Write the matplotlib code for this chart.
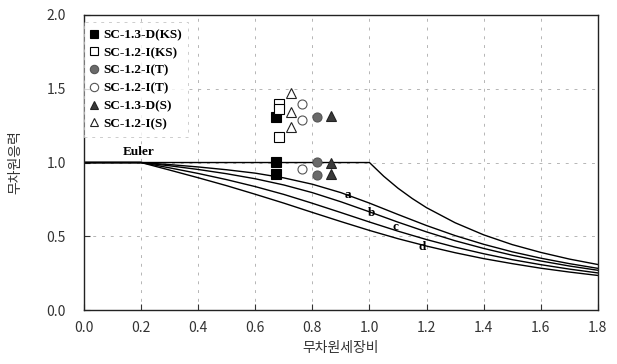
import matplotlib
matplotlib.use('Agg')
import matplotlib.pyplot as plt
from matplotlib.lines import Line2D

plt.rcParams['font.family'] = ['Noto Sans CJK KR', 'DejaVu Sans']

## column curve values (slenderness vs. stress ratio)
lam = [0.0, 0.2, 0.3, 0.4, 0.5, 0.6, 0.7, 0.8, 0.9, 1.0, 1.1, 1.2, 1.3, 1.4, 1.5, 1.6, 1.7, 1.8]
curve_a = [1.0, 1.0, 0.986, 0.970, 0.951, 0.928, 0.896, 0.853, 0.796, 0.725, 0.648, 0.573, 0.505, 0.446, 0.395, 0.352, 0.315, 0.283]
curve_b = [1.0, 1.0, 0.978, 0.953, 0.924, 0.890, 0.848, 0.796, 0.734, 0.666, 0.596, 0.530, 0.470, 0.418, 0.372, 0.333, 0.299, 0.270]
curve_c = [1.0, 1.0, 0.964, 0.926, 0.884, 0.837, 0.784, 0.724, 0.661, 0.597, 0.535, 0.478, 0.427, 0.382, 0.342, 0.308, 0.278, 0.252]
curve_d = [1.0, 1.0, 0.949, 0.897, 0.843, 0.785, 0.725, 0.662, 0.600, 0.540, 0.484, 0.434, 0.389, 0.349, 0.315, 0.284, 0.258, 0.235]

euler_x = [0.0, 1.0, 1.05, 1.1, 1.15, 1.2, 1.3, 1.4, 1.5, 1.6, 1.7, 1.8]
euler_y = [1.0, 1.0, 0.907, 0.826, 0.756, 0.694, 0.592, 0.510, 0.444, 0.391, 0.346, 0.309]

## test results
ks_d_x = [0.673, 0.673, 0.673]
ks_d_y = [1.311, 1.001, 0.920]
ks_i_x = [0.683, 0.683, 0.683]
ks_i_y = [1.397, 1.366, 1.171]
t_d_x = [0.816, 0.816, 0.816]
t_d_y = [1.306, 1.005, 0.915]
t_i_x = [0.765, 0.765, 0.765]
t_i_y = [1.395, 1.288, 0.956]
s_d_x = [0.866, 0.866, 0.866]
s_d_y = [1.317, 0.995, 0.920]
s_i_x = [0.725, 0.725, 0.725]
s_i_y = [1.469, 1.340, 1.239]

series_names = ['SC-1.3-D(KS)', 'SC-1.2-I(KS)', 'SC-1.2-I(T)', 'SC-1.2-I(T)', 'SC-1.3-D(S)', 'SC-1.2-I(S)']

fig = plt.figure(figsize=(6.17, 3.64), dpi=100)
ax = fig.add_axes([0.136, 0.148, 0.833, 0.811])

serif_bold = {'family': 'Liberation Serif', 'weight': 'bold'}

# grid
for gx in [0.2, 0.4, 0.6, 0.8, 1.0, 1.2, 1.4, 1.6]:
	ax.axvline(gx, color='#b5b5b5', lw=0.7, ls=(0, (3, 6)), zorder=0)
for gy in [0.5, 1.0, 1.5]:
	ax.axhline(gy, color='#b5b5b5', lw=0.7, ls=(0, (3, 6)), zorder=0)

# curves
ax.plot(euler_x, euler_y, color='black', lw=1.0)
for cy in [curve_a, curve_b, curve_c, curve_d]:
	ax.plot(lam, cy, color='black', lw=1.0)

ax.text(0.19, 1.07, 'Euler', fontsize=9.5, ha='center', va='center', **serif_bold)
ax.text(0.924, 0.78, 'a', fontsize=9.5, ha='center', va='center', **serif_bold)
ax.text(1.008, 0.658, 'b', fontsize=9.5, ha='center', va='center', **serif_bold)
ax.text(1.092, 0.563, 'c', fontsize=9.5, ha='center', va='center', **serif_bold)
ax.text(1.186, 0.43, 'd', fontsize=9.5, ha='center', va='center', **serif_bold)

# points
styles = [
	(ks_d_x, ks_d_y, 's', 'black', 'black'),
	(ks_i_x, ks_i_y, 's', 'white', 'black'),
	(t_d_x, t_d_y, 'o', '#6a6a6a', '#555555'),
	(t_i_x, t_i_y, 'o', 'white', '#555555'),
	(s_d_x, s_d_y, '^', '#3a3a3a', '#222222'),
	(s_i_x, s_i_y, '^', 'white', '#222222'),
]
handles = []
for (xs, ys, mk, fc, ec), name in zip(styles, series_names):
	ax.plot(xs, ys, ls='none', marker=mk, ms=6.5, mfc=fc, mec=ec, mew=0.8, zorder=5)
	handles.append(Line2D([], [], ls='none', marker=mk, ms=6, mfc=fc, mec=ec, mew=0.8, label=name))

leg = ax.legend(handles=handles, loc='upper left', bbox_to_anchor=(0.0, 0.975),
				borderaxespad=0.0,
				prop={'family': 'Liberation Serif', 'weight': 'bold', 'size': 9.5},
				handlelength=0.6, handletextpad=0.35, labelspacing=0.42,
				borderpad=0.5, frameon=True, fancybox=False)
leg.get_frame().set_edgecolor('#c0c0c0')
leg.get_frame().set_linestyle((0, (3, 5)))
leg.get_frame().set_linewidth(0.7)

ax.set_xlim(0, 1.8)
ax.set_ylim(0, 2.0)
ax.set_xticks([0.0, 0.2, 0.4, 0.6, 0.8, 1.0, 1.2, 1.4, 1.6, 1.8])
ax.set_yticks([0.0, 0.5, 1.0, 1.5, 2.0])
ax.xaxis.set_major_formatter(matplotlib.ticker.FormatStrFormatter('%.1f'))
ax.yaxis.set_major_formatter(matplotlib.ticker.FormatStrFormatter('%.1f'))
ax.tick_params(direction='in', length=4, width=0.8, labelsize=10, colors='#333333')
ax.tick_params(axis='x', pad=8)
ax.tick_params(axis='y', pad=13)
for sp in ax.spines.values():
	sp.set_linewidth(1.0)
	sp.set_color('#222222')

ax.set_xlabel('무차원세장비', fontsize=10, color='#333333', labelpad=4)
ax.set_ylabel('무차원응력', fontsize=10, color='#333333', labelpad=17)

plt.savefig('out.png', dpi=100)
